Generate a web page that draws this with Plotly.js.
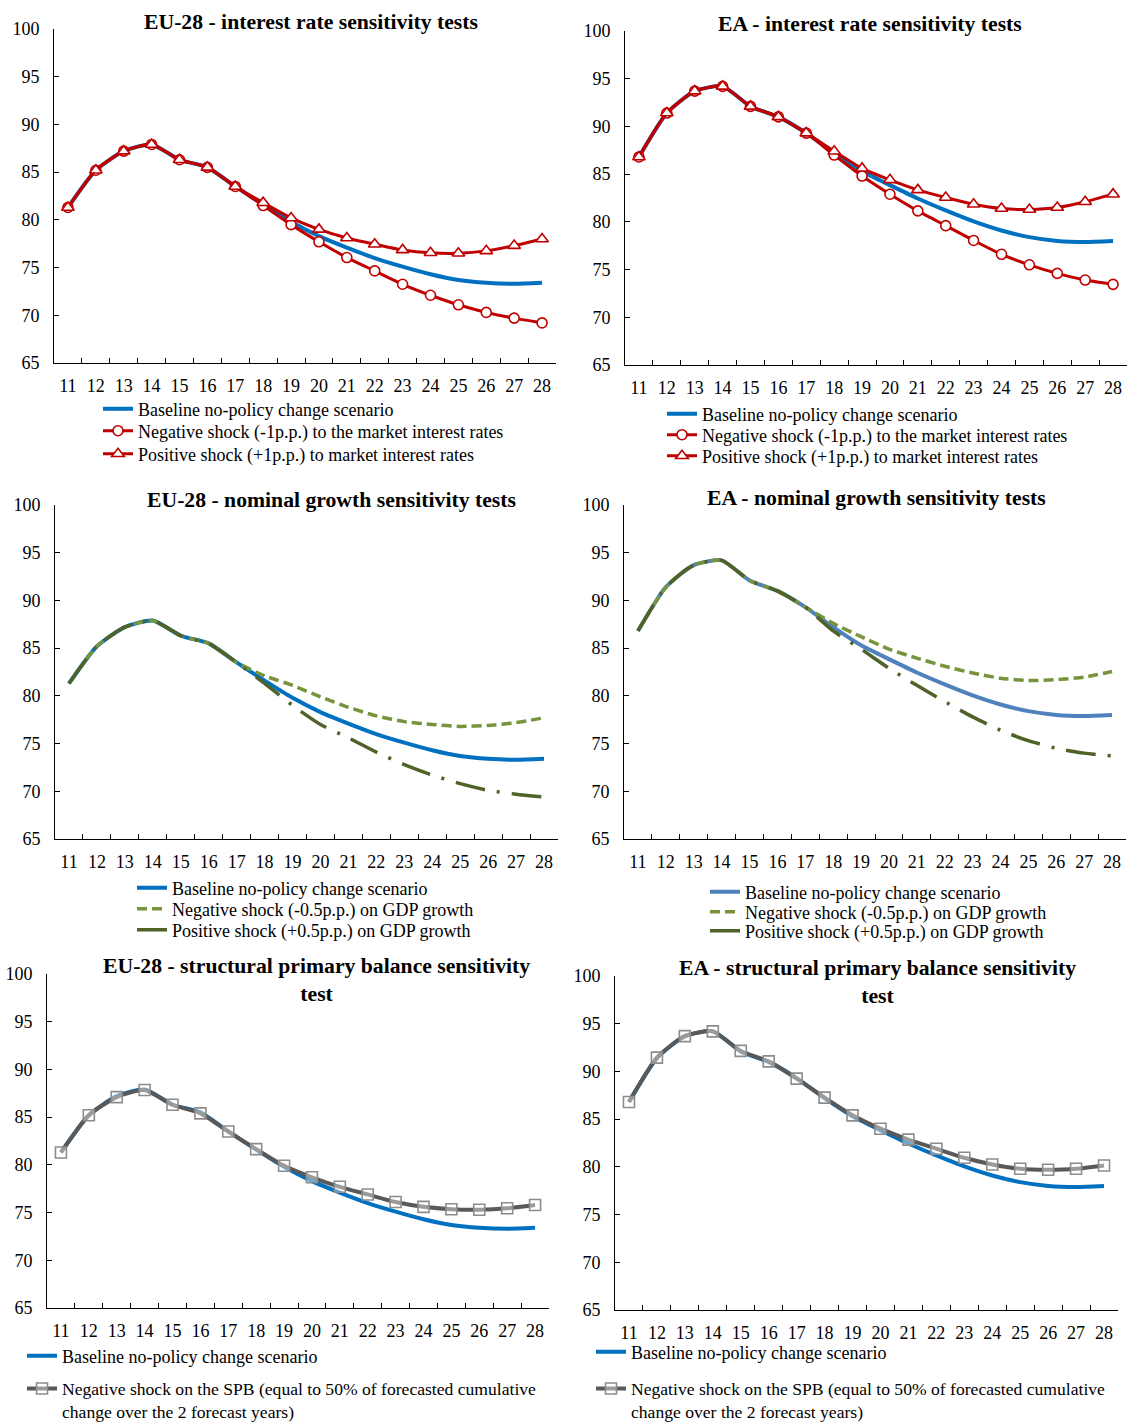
<!DOCTYPE html>
<html>
<head>
<meta charset="utf-8">
<script src="https://cdn.plot.ly/plotly-3.0.1.min.js"></script>
<style>
  html, body { margin: 0; padding: 0; background: #ffffff; }
  #chart { width: 1129px; height: 1424px; }
</style>
</head>
<body>
<div id="chart"></div>
<script>
// Debt-to-GDP projections (% of GDP), years 2011-2028
const years = ['11','12','13','14','15','16','17','18','19','20','21','22','23','24','25','26','27','28'];

// EU-28
const euBaseline = [81.3, 85.2, 87.2, 87.9, 86.3, 85.5, 83.5, 81.6, 79.8, 78.3, 77.1, 76.0, 75.1, 74.3, 73.7, 73.4, 73.3, 73.4];
const euRateNeg  = [81.3, 85.2, 87.2, 87.9, 86.3, 85.5, 83.5, 81.5, 79.5, 77.7, 76.05, 74.65, 73.25, 72.1, 71.1, 70.3, 69.7, 69.2];
const euRatePos  = [81.3, 85.2, 87.2, 87.9, 86.3, 85.5, 83.5, 81.8, 80.2, 79.0, 78.1, 77.45, 76.85, 76.55, 76.5, 76.75, 77.3, 78.0];
const euGdpNeg   = [81.3, 85.2, 87.2, 87.9, 86.3, 85.5, 83.5, 82.1, 81.1, 79.9, 78.8, 77.9, 77.3, 77.0, 76.8, 76.9, 77.2, 77.7];
const euGdpPos   = [81.3, 85.2, 87.2, 87.9, 86.3, 85.5, 83.5, 81.3, 79.0, 77.0, 75.6, 74.1, 72.8, 71.7, 70.8, 70.1, 69.7, 69.4];
const euSpbNeg   = [81.3, 85.2, 87.1, 87.85, 86.3, 85.4, 83.5, 81.65, 79.9, 78.7, 77.7, 76.9, 76.1, 75.6, 75.35, 75.3, 75.45, 75.8];

// Euro area
const eaBaseline = [86.8, 91.4, 93.7, 94.2, 92.1, 91.0, 89.3, 87.2, 85.3, 83.85, 82.45, 81.2, 80.05, 79.1, 78.4, 78.0, 77.9, 78.0];
const eaRateNeg  = [86.8, 91.4, 93.7, 94.2, 92.1, 91.0, 89.3, 87.0, 84.8, 82.9, 81.15, 79.6, 78.05, 76.6, 75.5, 74.6, 73.9, 73.45];
const eaRatePos  = [86.8, 91.4, 93.7, 94.2, 92.1, 91.0, 89.3, 87.4, 85.6, 84.4, 83.35, 82.55, 81.85, 81.4, 81.3, 81.5, 82.1, 82.9];
const eaGdpNeg   = [86.8, 91.4, 93.7, 94.2, 92.1, 91.0, 89.3, 87.6, 86.2, 84.9, 83.95, 83.1, 82.4, 81.85, 81.6, 81.7, 81.95, 82.55];
const eaGdpPos   = [86.8, 91.4, 93.7, 94.2, 92.1, 91.0, 89.3, 86.8, 84.9, 82.9, 81.1, 79.4, 77.8, 76.4, 75.3, 74.5, 74.0, 73.7];
const eaSpbNeg   = [86.8, 91.45, 93.7, 94.2, 92.15, 91.05, 89.25, 87.25, 85.4, 84.0, 82.85, 81.9, 80.95, 80.25, 79.8, 79.7, 79.8, 80.15];

// Legend texts and panel titles
const nameBaseline = 'Baseline no-policy change scenario';
const nameRateNeg  = 'Negative shock (-1p.p.) to the market interest rates';
const nameRatePos  = 'Positive shock (+1p.p.) to market interest rates';
const nameGdpNeg   = 'Negative shock (-0.5p.p.) on GDP growth';
const nameGdpPos   = 'Positive shock (+0.5p.p.) on GDP growth';
const nameSpbNeg   = 'Negative shock on the SPB (equal to 50% of forecasted cumulative<br>change over the 2 forecast years)';
const titles = [
  'EU-28 - interest rate sensitivity tests',
  'EA - interest rate sensitivity tests',
  'EU-28 - nominal growth sensitivity tests',
  'EA - nominal growth sensitivity tests',
  'EU-28 - structural primary balance sensitivity<br>test',
  'EA - structural primary balance sensitivity<br>test'
];

const W = 1129, H = 1424;
const FONT = '"Liberation Serif", "Times New Roman", Times, serif';
const BLUE = '#0070C0', BLUE_LIGHT = '#4F81BD', RED = '#C00000';
const GREEN_LIGHT = '#77933C', GREEN_DARK = '#4F6228', GREY = '#595959';
const SMOOTH = 0.6;

// Plot areas in pixels: [left, right, top, bottom]
const boxes = [
  [54, 556, 29, 363],
  [625, 1127, 31, 365],
  [55, 558, 505, 839],
  [624, 1126, 505, 839],
  [47, 549, 974, 1308],
  [615, 1118, 976, 1310]
];
// Title centres in pixels: [x, y]
const titlePos = [[311, 22], [870, 24], [331, 500], [876, 498], [316, 980], [877, 982]];

function line(y, name, axisIdx, legendId, style) {
  const sfx = axisIdx === 1 ? '' : String(axisIdx);
  return Object.assign({
    type: 'scatter', mode: 'lines', x: years, y: y, name: name,
    xaxis: 'x' + sfx, yaxis: 'y' + sfx, legend: legendId, showlegend: true,
    hoverinfo: 'skip'
  }, style);
}

const baseStyle = c => ({ line: { color: c, width: 4, shape: 'spline', smoothing: SMOOTH } });
const circleStyle = {
  mode: 'lines+markers',
  line: { color: RED, width: 3, shape: 'spline', smoothing: SMOOTH },
  marker: { symbol: 'circle', size: 10, color: '#ffffff', line: { color: RED, width: 1.6 } }
};
const triangleStyle = {
  mode: 'lines+markers',
  line: { color: RED, width: 3, shape: 'spline', smoothing: SMOOTH },
  marker: { symbol: 'triangle-up', size: 11, color: '#ffffff', line: { color: RED, width: 1.6 } }
};
const dashStyle = { line: { color: GREEN_LIGHT, width: 3.5, dash: '10px,5px', shape: 'spline', smoothing: SMOOTH } };
const dashDotStyle = { line: { color: GREEN_DARK, width: 3.5, dash: '30px,12px,3px,12px', shape: 'spline', smoothing: SMOOTH } };
const squareStyle = {
  mode: 'lines+markers',
  line: { color: GREY, width: 4, shape: 'spline', smoothing: SMOOTH },
  marker: { symbol: 'square', size: 11, color: 'rgba(255,255,255,0.4)', line: { color: '#8c8c8c', width: 1.6 } }
};

const traces = [
  line(euBaseline, nameBaseline, 1, 'legend', baseStyle(BLUE)),
  line(euRateNeg, nameRateNeg, 1, 'legend2', circleStyle),
  line(euRatePos, nameRatePos, 1, 'legend3', triangleStyle),

  line(eaBaseline, nameBaseline, 2, 'legend4', baseStyle(BLUE)),
  line(eaRateNeg, nameRateNeg, 2, 'legend5', circleStyle),
  line(eaRatePos, nameRatePos, 2, 'legend6', triangleStyle),

  line(euBaseline, nameBaseline, 3, 'legend7', baseStyle(BLUE)),
  line(euGdpNeg, nameGdpNeg, 3, 'legend8', dashStyle),
  line(euGdpPos, nameGdpPos, 3, 'legend9', dashDotStyle),

  line(eaBaseline, nameBaseline, 4, 'legend10', baseStyle(BLUE_LIGHT)),
  line(eaGdpNeg, nameGdpNeg, 4, 'legend11', dashStyle),
  line(eaGdpPos, nameGdpPos, 4, 'legend12', dashDotStyle),

  line(euBaseline, nameBaseline, 5, 'legend13', baseStyle(BLUE)),
  line(euSpbNeg, nameSpbNeg, 5, 'legend14', squareStyle),

  line(eaBaseline, nameBaseline, 6, 'legend15', baseStyle(BLUE)),
  line(eaSpbNeg, nameSpbNeg, 6, 'legend16', squareStyle)
];

// Legend entries: [legend id, text start x px, row centre y px, font size]
const legendSpots = [
  ['legend', 138, 409, 18], ['legend2', 138, 431, 18], ['legend3', 138, 454, 18],
  ['legend4', 702, 414, 18], ['legend5', 702, 435, 18], ['legend6', 702, 456, 18],
  ['legend7', 172, 888, 18], ['legend8', 172, 909, 18], ['legend9', 172, 930, 18],
  ['legend10', 745, 892, 18], ['legend11', 745, 912, 18], ['legend12', 745, 931, 18],
  ['legend13', 62, 1356, 18], ['legend14', 62, 1400, 17.6],
  ['legend15', 631, 1352, 18], ['legend16', 631, 1400, 17.6]
];

const layout = {
  width: W, height: H,
  margin: { l: 0, r: 0, t: 0, b: 0, pad: 0, autoexpand: false },
  paper_bgcolor: '#ffffff', plot_bgcolor: '#ffffff',
  font: { family: FONT, size: 18, color: '#000000' },
  showlegend: true,
  annotations: []
};

boxes.forEach((b, i) => {
  const sfx = i === 0 ? '' : String(i + 1);
  layout['xaxis' + sfx] = {
    type: 'category', domain: [b[0] / W, b[1] / W], range: [-0.5, 17.5],
    anchor: 'y' + sfx, tickson: 'boundaries', ticks: 'inside', ticklen: 5,
    tickcolor: '#000', tickwidth: 1, showline: true, linecolor: '#000', linewidth: 1,
    showgrid: false, zeroline: false, ticklabelstandoff: 6, fixedrange: true,
    automargin: false,
    tickfont: { family: FONT, size: 18, color: '#000' }
  };
  layout['yaxis' + sfx] = {
    domain: [1 - b[3] / H, 1 - b[2] / H], range: [65, 100], tick0: 65, dtick: 5,
    anchor: 'x' + sfx, ticks: 'inside', ticklen: 5, tickcolor: '#000', tickwidth: 1,
    showline: true, linecolor: '#000', linewidth: 1, showgrid: false, zeroline: false,
    ticklabelstandoff: 10, fixedrange: true, automargin: false,
    tickfont: { family: FONT, size: 18, color: '#000' }
  };
  layout.annotations.push({
    text: '<b>' + titles[i] + '</b>', xref: 'paper', yref: 'paper',
    x: titlePos[i][0] / W, y: 1 - titlePos[i][1] / H, xanchor: 'center', yanchor: 'middle',
    showarrow: false, align: 'center',
    font: { family: FONT, size: 21.7, color: '#000' }
  });
});

legendSpots.forEach(([id, tx, cy, fs]) => {
  layout[id] = {
    x: (tx - 40) / W, y: 1 - cy / H, xanchor: 'left', yanchor: 'middle',
    bgcolor: 'rgba(0,0,0,0)', borderwidth: 0, valign: 'top',
    font: { family: FONT, size: fs, color: '#000' }
  };
});

Plotly.newPlot('chart', traces, layout, { staticPlot: true, displayModeBar: false });
</script>
</body>
</html>
